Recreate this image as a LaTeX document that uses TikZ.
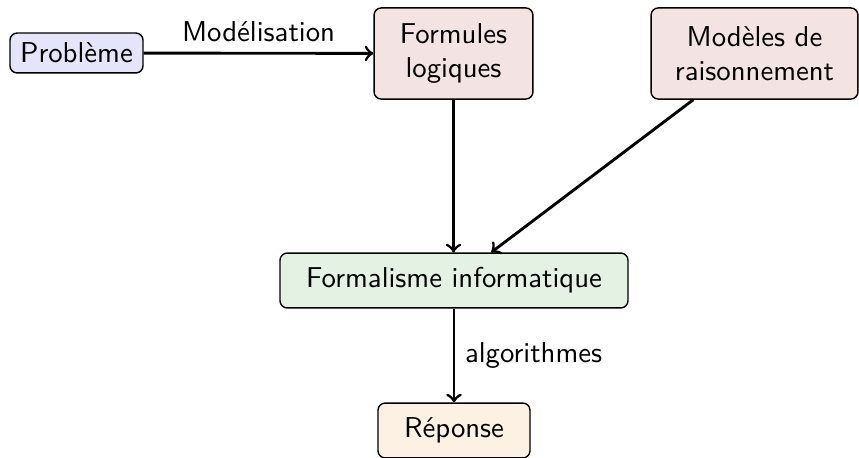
\documentclass[tikz,border=0pt]{standalone}
\usepackage{fontspec}
\definecolor{cprob}{RGB}{229,229,250}
\definecolor{cform}{RGB}{243,227,227}
\definecolor{cformal}{RGB}{227,242,227}
\definecolor{crep}{RGB}{253,241,228}
\tikzset{
  box/.style={draw, rounded corners=2.5pt, line width=0.5pt, inner sep=0pt, align=center, font=\sffamily},
  arr/.style={->, >=to, line width=1pt},
  lbl/.style={font=\sffamily}
}
\begin{document}
\begin{tikzpicture}[x=0.348pt,y=-0.348pt]
\useasboundingbox (0,0) rectangle (859,458);
\node[box, fill=cprob, minimum width=46.3pt, minimum height=13.9pt] (prob) at (76.5,53) {Problème};
\node[box, fill=cform, minimum width=55.3pt, minimum height=31.7pt] (form) at (453.5,53.5) {Formules\\logiques};
\node[box, fill=cform, minimum width=72pt, minimum height=31.7pt] (mod) at (754.5,53.5) {Modèles de\\raisonnement};
\node[box, fill=cformal, minimum width=121.1pt, minimum height=19.1pt] (formal) at (454,280.5) {Formalisme informatique};
\node[box, fill=crep, minimum width=52.9pt, minimum height=19.1pt] (rep) at (454,430.5) {Réponse};
\draw[arr] (prob) -- node[lbl, above] {Modélisation} (form);
\draw[arr] (form) -- (form |- formal.north);
\draw[arr] (mod) -- (formal);
\draw[arr] (formal) -- node[lbl, right] {algorithmes} (rep);
\end{tikzpicture}
\end{document}
